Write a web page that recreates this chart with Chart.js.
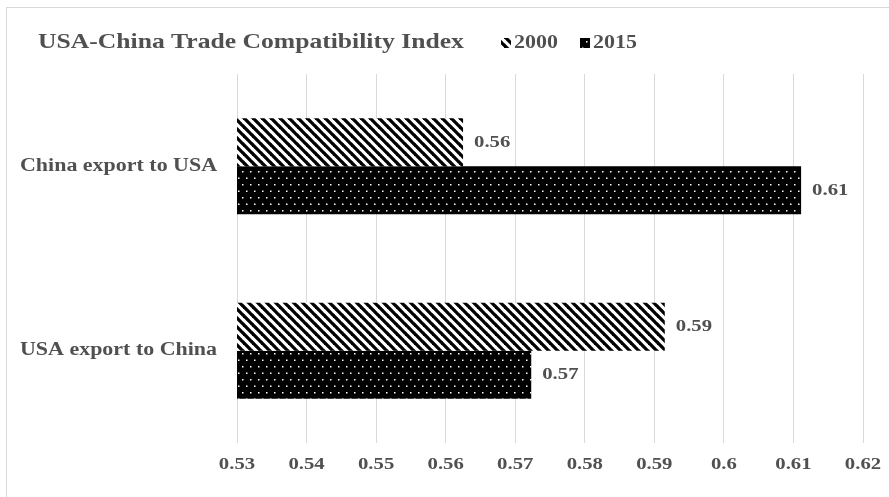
<!DOCTYPE html>
<html>
<head>
<meta charset="utf-8">
<script src="https://cdn.jsdelivr.net/npm/chart.js@4/dist/chart.umd.min.js"></script>
<style>
  html, body { margin: 0; padding: 0; background: #ffffff; }
  #wrap { width: 889px; height: 497px; position: relative; }
</style>
</head>
<body>
<div id="wrap"><canvas id="c" width="889" height="497"></canvas></div>
<script>
// Trade compatibility index, USA <-> China
const chartTitle = 'USA-China Trade Compatibility Index';
const categories = ['China export to USA', 'USA export to China'];
const seriesNames = ['2000', '2015'];
const values2000 = [0.5625, 0.5915];
const values2015 = [0.6111, 0.5723];
const xTicks = [0.53, 0.54, 0.55, 0.56, 0.57, 0.58, 0.59, 0.60, 0.61, 0.62];

const TEXT = '#505050';
const SERIF = '"Liberation Serif", "Times New Roman", serif';
const WIDEN = 1.22; // horizontal stretch of the lettering

// Diagonal hatch fill ("\" stripes)
function hatchPattern() {
  const s = 9;
  const cv = document.createElement('canvas');
  cv.width = s; cv.height = s;
  const g = cv.getContext('2d');
  g.fillStyle = '#ffffff';
  g.fillRect(0, 0, s, s);
  g.strokeStyle = '#000000';
  g.lineWidth = 3.3;
  for (let k = -1; k <= 1; k++) {
    g.beginPath();
    g.moveTo(k * s - 1, -1);
    g.lineTo(k * s + s + 1, s + 1);
    g.stroke();
  }
  return g.createPattern(cv, 'repeat');
}

// Black fill with a staggered grid of small white dots
function dotPattern() {
  const w = 8, h = 13;
  const cv = document.createElement('canvas');
  cv.width = w; cv.height = h;
  const g = cv.getContext('2d');
  g.fillStyle = '#000000';
  g.fillRect(0, 0, w, h);
  g.fillStyle = '#ffffff';
  g.fillRect(2, 2, 1.5, 1.5);
  g.fillRect(6, 8.5, 1.5, 1.5);
  return g.createPattern(cv, 'repeat');
}

const fills = [hatchPattern(), dotPattern()];

const fmt = v => String(Number(v.toFixed(2)));

// Text drawn with a slight horizontal stretch
function wideText(ctx, text, x, y, size, align) {
  ctx.save();
  ctx.font = 'bold ' + size + 'px ' + SERIF;
  ctx.fillStyle = TEXT;
  ctx.textAlign = align || 'left';
  ctx.textBaseline = 'middle';
  ctx.translate(x, y);
  ctx.scale(WIDEN, 1);
  ctx.fillText(text, 0, 0);
  ctx.restore();
}

// Frame, title, legend and axis labels
const decorPlugin = {
  id: 'decor',
  beforeDraw(chart) {
    const ctx = chart.ctx;
    ctx.save();
    ctx.fillStyle = '#ffffff';
    ctx.fillRect(0, 0, chart.width, chart.height);
    ctx.strokeStyle = '#d9d9d9';
    ctx.lineWidth = 1;
    ctx.strokeRect(6.5, 7.5, 2000, 2000);
    ctx.restore();
  },
  afterDraw(chart) {
    const ctx = chart.ctx;
    wideText(ctx, chartTitle, 38, 43, 21);

    const legendX = [501, 580];
    chart.data.datasets.forEach((ds, i) => {
      const x = legendX[i];
      ctx.save();
      ctx.fillStyle = ds.backgroundColor;
      ctx.fillRect(x, 38, 10, 10);
      ctx.restore();
      wideText(ctx, ds.label, x + 13, 43, 18);
    });

    // category labels on the y axis
    const ys = chart.scales.y;
    ys.ticks.forEach((t, i) => {
      wideText(ctx, ys.getLabelForValue(t.value), 20, ys.getPixelForTick(i), 18);
    });
    // value ticks on the x axis
    const xs = chart.scales.x;
    xs.ticks.forEach(t => {
      wideText(ctx, fmt(t.value), xs.getPixelForValue(t.value), 465, 17, 'center');
    });
  }
};

// Value labels to the right of each bar
const valueLabels = {
  id: 'valueLabels',
  afterDatasetsDraw(chart) {
    const ctx = chart.ctx;
    chart.data.datasets.forEach((ds, di) => {
      const meta = chart.getDatasetMeta(di);
      meta.data.forEach((bar, i) => {
        wideText(ctx, fmt(ds.data[i]), bar.x + 11, bar.y, 17);
      });
    });
  }
};

new Chart(document.getElementById('c'), {
  type: 'bar',
  data: {
    labels: categories,
    datasets: [
      { label: seriesNames[0], data: values2000, backgroundColor: fills[0], borderWidth: 0 },
      { label: seriesNames[1], data: values2015, backgroundColor: fills[1], borderWidth: 0 }
    ]
  },
  options: {
    indexAxis: 'y',
    responsive: false,
    animation: false,
    devicePixelRatio: 1,
    layout: { padding: { left: 20, right: 26, top: 74, bottom: 0 } },
    datasets: { bar: { categoryPercentage: 0.52, barPercentage: 1.0 } },
    plugins: {
      legend: { display: false },
      title: { display: false },
      tooltip: { enabled: false }
    },
    scales: {
      x: {
        min: 0.53,
        max: 0.62,
        afterBuildTicks: s => { s.ticks = xTicks.map(v => ({ value: v })); },
        afterFit: s => { s.height = 54; },
        grid: { color: '#d9d9d9', lineWidth: 1, drawTicks: false, tickLength: 0 },
        border: { display: false },
        ticks: { display: false }
      },
      y: {
        afterFit: s => { s.width = 217; },
        grid: { display: false },
        border: { display: false },
        ticks: { display: false }
      }
    }
  },
  plugins: [decorPlugin, valueLabels]
});
</script>
</body>
</html>
